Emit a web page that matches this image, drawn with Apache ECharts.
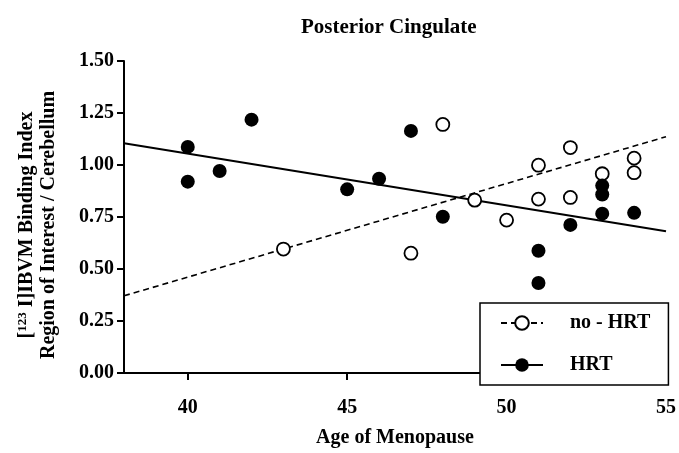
<!DOCTYPE html>
<html>
<head>
<meta charset="utf-8">
<script src="https://cdn.jsdelivr.net/npm/echarts@6/dist/echarts.min.js"></script>
<style>
html, body { margin: 0; padding: 0; background: #fff; }
#main { width: 679px; height: 453px; }
</style>
</head>
<body>
<div id="main"></div>
<script>
// age of menopause / binding index
var noHrtAge = [43, 47, 48, 49, 50, 51, 51, 52, 52, 53, 54, 54];
var noHrtVal = [0.596, 0.576, 1.195, 0.831, 0.735, 0.999, 0.836, 1.084, 0.844, 0.958, 1.033, 0.963];

var hrtAge = [40, 40, 41, 42, 45, 46, 47, 48, 51, 51, 52, 53, 53, 53, 54];
var hrtVal = [0.92, 1.087, 0.971, 1.218, 0.883, 0.934, 1.164, 0.751, 0.588, 0.433, 0.712, 0.901, 0.858, 0.766, 0.770];

// fitted lines, end points as drawn
var noHrtFitX = [38, 55];
var noHrtFitY = [0.371, 1.136];
var hrtFitX = [38, 55];
var hrtFitY = [1.105, 0.681];

var xTicks = [40, 45, 50, 55];

function pairs(xs, ys) {
	var out = [];
	for (var i = 0; i < xs.length; i++) { out.push([xs[i], ys[i]]); }
	return out;
}

var serif = '"Liberation Serif", "Times New Roman", serif';

var chart = echarts.init(document.getElementById('main'));

var option = {
	backgroundColor: '#fff',
	animation: false,
	title: {
		text: 'Posterior Cingulate',
		left: 296,
		top: 12,
		textStyle: { fontFamily: serif, fontWeight: 'bold', fontSize: 21, color: '#000' }
	},
	grid: { left: 124, right: 12, top: 61, bottom: 68 },
	legend: {
		orient: 'vertical',
		left: 480,
		top: 303,
		padding: [10, 18, 10, 20],
		itemGap: 22,
		itemWidth: 42,
		itemHeight: 17,
		borderColor: '#000',
		borderWidth: 1.5,
		backgroundColor: '#fff',
		selectedMode: false,
		data: ['no - HRT', 'HRT'],
		textStyle: { fontFamily: serif, fontWeight: 'bold', fontSize: 20, color: '#000', padding: [0, 0, 0, 22] }
	},
	xAxis: {
		type: 'value',
		min: 38,
		max: 55,
		name: 'Age of Menopause',
		nameLocation: 'middle',
		nameGap: 55,
		nameTextStyle: { fontFamily: serif, fontWeight: 'bold', fontSize: 20, color: '#000' },
		splitLine: { show: false },
		axisLine: { onZero: false, lineStyle: { color: '#000', width: 2 } },
		axisTick: { customValues: xTicks, length: 7, lineStyle: { color: '#000', width: 2 } },
		axisLabel: {
			customValues: xTicks,
			margin: 25,
			fontFamily: serif, fontWeight: 'bold', fontSize: 20, color: '#000'
		}
	},
	yAxis: {
		type: 'value',
		min: 0,
		max: 1.5,
		interval: 0.25,
		name: '{a|[}{sup|123}{a| I]IBVM Binding Index}\n{a|Region of Interest / Cerebellum}',
		nameLocation: 'middle',
		nameGap: 64,
		nameRotate: 90,
		nameTextStyle: {
			padding: [0, 16, 0, 0],
			rich: {
				a: { fontFamily: serif, fontWeight: 'bold', fontSize: 20, color: '#000', lineHeight: 22 },
				sup: { fontFamily: serif, fontWeight: 'bold', fontSize: 13, color: '#000', verticalAlign: 'top', lineHeight: 22, padding: [0, 0, 8, 0] }
			}
		},
		splitLine: { show: false },
		axisLine: { show: true, lineStyle: { color: '#000', width: 2 } },
		axisTick: { show: true, length: 7, lineStyle: { color: '#000', width: 2 } },
		axisLabel: {
			margin: 10,
			formatter: function (v) { return v.toFixed(2); },
			fontFamily: serif, fontWeight: 'bold', fontSize: 20, color: '#000'
		}
	},
	series: [
		{
			name: 'no - HRT',
			type: 'line',
			data: pairs(noHrtFitX, noHrtFitY),
			symbol: 'circle',
			symbolSize: 13,
			showSymbol: false,
			itemStyle: { color: '#fff', borderColor: '#000', borderWidth: 1.8 },
			lineStyle: { color: '#000', width: 1.6, type: [6, 4] },
			z: 2
		},
		{
			name: 'HRT',
			type: 'line',
			data: pairs(hrtFitX, hrtFitY),
			symbol: 'circle',
			symbolSize: 14,
			showSymbol: false,
			itemStyle: { color: '#000' },
			lineStyle: { color: '#000', width: 2 },
			z: 2
		},
		{
			name: 'no - HRT',
			type: 'scatter',
			data: pairs(noHrtAge, noHrtVal),
			symbol: 'circle',
			symbolSize: 13,
			itemStyle: { color: '#fff', borderColor: '#000', borderWidth: 1.8, opacity: 1 },
			z: 3
		},
		{
			name: 'HRT',
			type: 'scatter',
			data: pairs(hrtAge, hrtVal),
			symbol: 'circle',
			symbolSize: 14,
			itemStyle: { color: '#000', opacity: 1 },
			z: 4
		}
	]
};

chart.setOption(option);
</script>
</body>
</html>
